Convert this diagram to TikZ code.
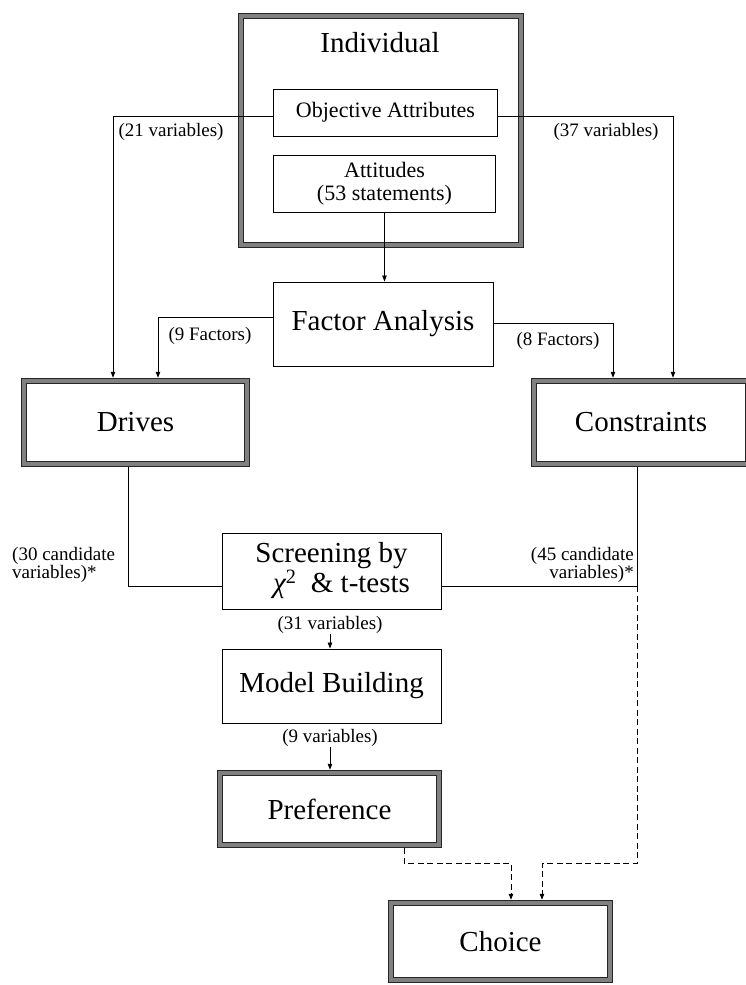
\documentclass[tikz,border=0pt]{standalone}
\usepackage{fontspec}
\setmainfont{Liberation Serif}
\usetikzlibrary{arrows.meta,calc}
\begin{document}
\begin{tikzpicture}[x=1pt,y=-1pt,
  thinbox/.style={rectangle, draw=black, line width=0.9pt, inner sep=0pt, align=center},
  thickbox/.style={rectangle, draw=black!85, line width=1pt, double=black!50, double distance=4.5pt, inner sep=0pt, outer sep=3.25pt, align=center},
  arr/.style={draw=black, line width=0.75pt, -{Triangle[length=6pt,width=4.5pt]}},
  plain/.style={draw=black, line width=0.75pt},
  dasharr/.style={arr, dash pattern=on 6pt off 3.5pt},
  lab/.style={font=\fontsize{19}{16}\selectfont, inner sep=0pt, align=center},
  big/.style={font=\fontsize{29}{30}\selectfont},
  mid/.style={font=\fontsize{22}{23}\selectfont}]
\useasboundingbox (0,0) rectangle (746,985);
% boxes
\node[thickbox, minimum width=280pt, minimum height=229pt] (ind) at (381,130.5) {};
\node[big] (indtext) at (380,43) {Individual};
\node[thinbox, mid, minimum width=224pt, minimum height=47pt] (obj) at (385.5,112.5) {Objective Attributes};
\node[thinbox, mid, minimum width=222pt, minimum height=57pt] (att) at (384.5,183.5) {Attitudes\\(53 statements)};
\node[thinbox, big, minimum width=220pt, minimum height=84pt] (fa) at (383,324) {Factor Analysis};
\node[thickbox, big, minimum width=223pt, minimum height=83pt] (drv) at (135.5,422.5) {Drives};
\node[thickbox, big, minimum width=214pt, minimum height=83pt] (con) at (641,422.5) {Constraints};
\node[thinbox, big, minimum width=219pt, minimum height=76pt] (scr) at (331.5,571) {Screening by\\\hspace*{20pt}{\itshape χ}\textsuperscript{2}\ \ \& t-tests};
\node[thinbox, big, minimum width=219pt, minimum height=74pt] (mb) at (331.5,686) {Model Building};
\node[thickbox, big, minimum width=219pt, minimum height=72pt] (pref) at (329.5,809) {Preference};
\node[thickbox, big, minimum width=219pt, minimum height=77pt] (cho) at (500.5,941.5) {Choice};
% labels
\node[lab] (l21) at (171,132) {(21 variables)};
\node[lab] (l37) at (606,132) {(37 variables)};
\node[lab] (l9f) at (210,336) {(9 Factors)};
\node[lab] (l8f) at (558,341) {(8 Factors)};
\node[lab, align=left, anchor=west] (l30) at (12,565) {(30 candidate\\variables)*};
\node[lab, align=right, anchor=east] (l45) at (634,565) {(45 candidate\\variables)*};
\node[lab] (l31) at (330,625) {(31 variables)};
\node[lab] (l9v) at (330,738) {(9 variables)};
% helper coordinates
\coordinate (x21) at (113,116);
\coordinate (x37) at (673,116);
\coordinate (x9f) at (158,317);
\coordinate (x8f) at (613,323);
\coordinate (lk) at (0,586);
\coordinate (dc) at (128,0);
\coordinate (rc) at (637,0);
\coordinate (dh) at (0,863);
\coordinate (a1) at (511,0);
\coordinate (a2) at (542,0);
\coordinate (pd) at (404,0);
% connectors
\draw[arr] (x21 -| obj.west) -| (x21 |- drv.north);
\draw[arr] (x37 -| obj.east) -| (x37 |- con.north);
\draw[arr] (att.south) -- (att.south |- fa.north);
\draw[arr] (x9f -| fa.west) -| (x9f |- drv.north);
\draw[arr] (x8f -| fa.east) -| (x8f |- con.north);
\draw[plain] (dc |- drv.south) |- (lk -| scr.west);
\draw[plain] (rc |- con.south) |- (lk -| scr.east);
\draw[dasharr] (rc |- lk) |- (a2 |- dh) -- (a2 |- cho.north);
\draw[dasharr] (pd |- pref.south) |- (a1 |- dh) -- (a1 |- cho.north);
\draw[arr] (l31.south) -- (l31.south |- mb.north);
\draw[arr] (l9v.south) -- (l9v.south |- pref.north);
\end{tikzpicture}
\end{document}
